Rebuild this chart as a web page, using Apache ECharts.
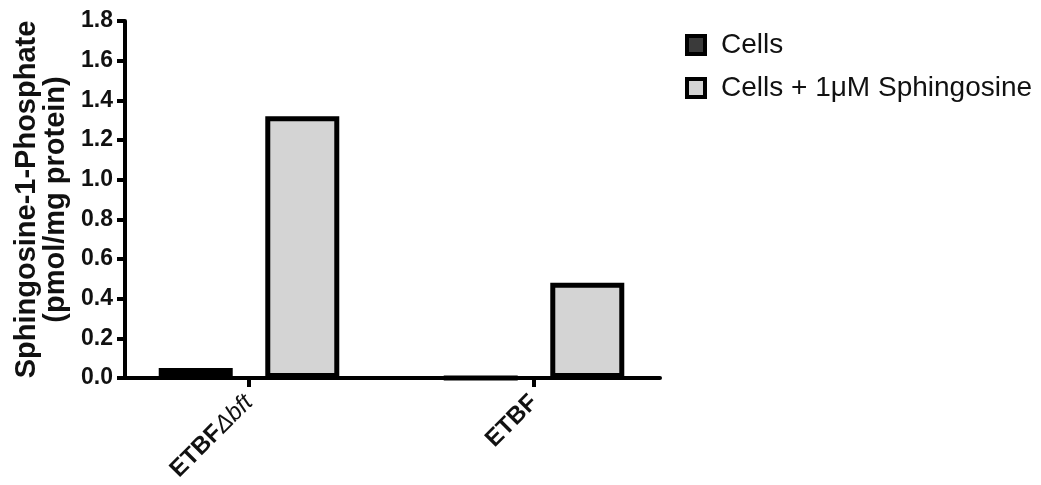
<!DOCTYPE html>
<html>
<head>
<meta charset="utf-8">
<title>Sphingosine-1-Phosphate</title>
<script src="https://cdn.jsdelivr.net/npm/echarts@6/dist/echarts.min.js"></script>
<style>
  html, body { margin: 0; padding: 0; background: #ffffff; }
  #chart { width: 1041px; height: 485px; }
</style>
</head>
<body>
<div id="chart"></div>
<script>
// Strains on the x axis
const categories = ['ETBF\u0394bft', 'ETBF'];
// S1P level, pmol/mg protein
const cellsValues = [0.05, 0];
const sphingosineValues = [1.32, 0.48];
const seriesNames = ['Cells', 'Cells + 1\u03bcM Sphingosine'];
const yMin = 0, yMax = 1.8, yStep = 0.2;

const FONT = "'Liberation Sans', Arial, Helvetica, sans-serif";

const chart = echarts.init(document.getElementById('chart'), null, { renderer: 'canvas' });

const barBorder = 5;

chart.setOption({
  backgroundColor: '#ffffff',
  animation: false,
  legend: {
    orient: 'vertical',
    left: 685,
    top: 31,
    padding: 0,
    itemWidth: 18,
    itemHeight: 18,
    itemGap: 15,
    icon: 'rect',
    textStyle: { fontFamily: FONT, fontSize: 28, color: '#111', padding: [0, 0, 0, 11] },
    data: [
      { name: seriesNames[0], itemStyle: { color: '#3a3a3a', borderColor: '#000', borderWidth: 4 } },
      { name: seriesNames[1], itemStyle: { color: '#d4d4d4', borderColor: '#000', borderWidth: 4 } }
    ]
  },
  grid: [
    // bar placement grid
    { left: 106.5, width: 570, top: 21, height: 357, containLabel: false },
    // frame grid carrying the visible axis lines
    { left: 125, width: 535, top: 21, height: 357, containLabel: false }
  ],
  xAxis: [
    {
      type: 'category',
      gridIndex: 0,
      data: categories,
      axisLine: { show: false },
      axisTick: { show: true, alignWithLabel: true, length: 9, lineStyle: { color: '#000', width: 4 } },
      axisLabel: {
        rotate: 45,
        margin: 21,
        fontFamily: FONT,
        fontSize: 24,
        fontWeight: 'bold',
        color: '#111',
        formatter: function (v) {
          if (v.indexOf('ETBF') === 0 && v.length > 4) {
            return '{b|ETBF}{i|' + v.slice(4) + '}';
          }
          return '{b|' + v + '}';
        },
        rich: {
          b: { fontFamily: FONT, fontSize: 24, fontWeight: 'bold', color: '#111' },
          i: { fontFamily: FONT, fontSize: 24, fontStyle: 'italic', fontWeight: 'normal', color: '#111' }
        }
      },
      splitLine: { show: false }
    },
    {
      type: 'value',
      gridIndex: 1,
      min: 0,
      max: 1,
      axisLine: { show: true, onZero: false, lineStyle: { color: '#000', width: 4 } },
      axisTick: { show: false },
      axisLabel: { show: false },
      splitLine: { show: false }
    }
  ],
  yAxis: [
    {
      type: 'value',
      gridIndex: 0,
      min: yMin,
      max: yMax,
      interval: yStep,
      show: false
    },
    {
      type: 'value',
      gridIndex: 1,
      min: yMin,
      max: yMax,
      interval: yStep,
      name: 'Sphingosine-1-Phosphate\n(pmol/mg protein)',
      nameLocation: 'middle',
      nameGap: 50,
      nameTextStyle: {
        fontFamily: FONT,
        fontSize: 29,
        fontWeight: 'bold',
        color: '#111',
        lineHeight: 29
      },
      axisLine: { show: true, onZero: false, lineStyle: { color: '#000', width: 4 } },
      axisTick: { show: true, length: 8, lineStyle: { color: '#000', width: 4 } },
      axisLabel: {
        margin: 12,
        fontFamily: FONT,
        fontSize: 23,
        fontWeight: 'bold',
        color: '#111',
        formatter: function (v) { return v.toFixed(1); }
      },
      splitLine: { show: false }
    }
  ],
  series: [
    {
      name: seriesNames[0],
      type: 'bar',
      xAxisIndex: 0,
      yAxisIndex: 0,
      data: cellsValues,
      barWidth: 74,
      barGap: '44%',
      itemStyle: { color: '#3a3a3a', borderColor: '#000', borderWidth: barBorder }
    },
    {
      name: seriesNames[1],
      type: 'bar',
      xAxisIndex: 0,
      yAxisIndex: 0,
      data: sphingosineValues,
      barWidth: 74,
      barGap: '44%',
      itemStyle: { color: '#d4d4d4', borderColor: '#000', borderWidth: barBorder }
    }
  ]
});
</script>
</body>
</html>
